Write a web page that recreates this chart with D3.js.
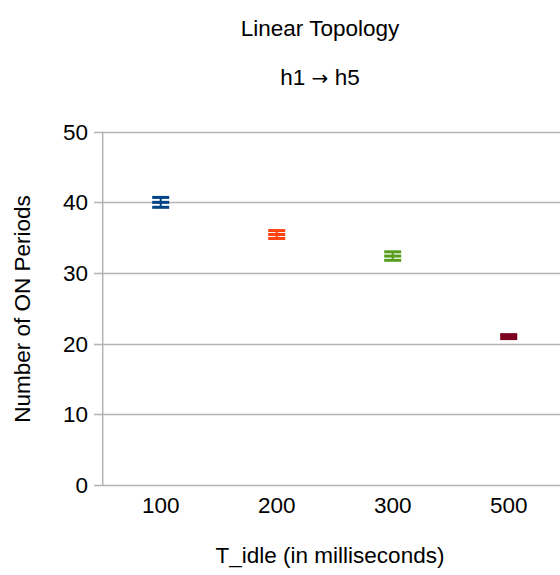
<!DOCTYPE html>
<html>
<head>
<meta charset="utf-8">
<script src="https://cdn.jsdelivr.net/npm/d3@7"></script>
<style>
  body { margin: 0; background: #fff; }
  text { font-family: "Liberation Sans", Arial, sans-serif; fill: #000; }
</style>
</head>
<body>
<div id="container"></div>
<script>
// ------ Data ------
const categories = ['100', '200', '300', '500'];
const means = [40.0, 35.45, 32.4, 21.0];
const errors = [0.7, 0.56, 0.6, 0.28];
const colors = ['#004586', '#ff420e', '#579d1c', '#7e0021'];
const yTicks = [0, 10, 20, 30, 40, 50];

// ------ Global Values ------
const width = 560,
  height = 575;

const svg = d3.select('#container').append('svg')
  .attr('width', width)
  .attr('height', height)
  .style('display', 'block');

svg.append('rect').attr('width', width).attr('height', height).attr('fill', '#fff');

const x = d3.scaleBand()
  .domain(categories)
  .range([102.7, 566.7]);

const y = d3.scaleLinear()
  .domain([0, 50])
  .range([485, 131.7]);

const gridColor = '#b3b3b3';
const fs = '22.5px';

// titles
svg.append('text')
  .attr('x', 320).attr('y', 36)
  .attr('text-anchor', 'middle')
  .style('font-size', fs)
  .text('Linear Topology');

const sub = svg.append('text')
  .attr('x', 320).attr('y', 85)
  .attr('text-anchor', 'middle')
  .style('font-size', fs);
sub.append('tspan').text('h1 ');
sub.append('tspan').style('font-family', '"DejaVu Sans"').style('font-size', '20px').text('\u2192');
sub.append('tspan').text(' h5');

// grid lines
svg.append('g').attr('class', 'grid')
  .selectAll('line').data(yTicks)
    .enter().append('line')
    .attr('x1', 94)
    .attr('x2', width)
    .attr('y1', d => Math.round(y(d)) + 0.5)
    .attr('y2', d => Math.round(y(d)) + 0.5)
    .attr('stroke', gridColor)
    .attr('stroke-width', 1.5);

// y axis line
svg.append('line')
  .attr('x1', 102.7).attr('x2', 102.7)
  .attr('y1', y(50)).attr('y2', y(0))
  .attr('stroke', gridColor)
  .attr('stroke-width', 1.5);

// y tick labels
svg.append('g')
  .selectAll('text').data(yTicks)
    .enter().append('text')
    .attr('x', 88)
    .attr('y', d => y(d) + 8)
    .attr('text-anchor', 'end')
    .style('font-size', fs)
    .text(d => d);

// x tick labels
svg.append('g')
  .selectAll('text').data(categories)
    .enter().append('text')
    .attr('x', d => x(d) + x.bandwidth() / 2)
    .attr('y', 513)
    .attr('text-anchor', 'middle')
    .style('font-size', fs)
    .text(d => d);

// axis titles
svg.append('text')
  .attr('transform', 'translate(30,309) rotate(-90)')
  .attr('text-anchor', 'middle')
  .style('font-size', fs)
  .text('Number of ON Periods');

svg.append('text')
  .attr('x', 330).attr('y', 563)
  .attr('text-anchor', 'middle')
  .style('font-size', fs)
  .text('T_idle (in milliseconds)');

// markers with error bars
const points = categories.map((c, i) => ({ c, m: means[i], e: errors[i], color: colors[i] }));
const mw = 17, th = 3;

const g = svg.append('g').attr('class', 'points')
  .selectAll('g').data(points)
    .enter().append('g')
    .attr('fill', d => d.color);

g.append('rect')
  .attr('x', d => x(d.c) + x.bandwidth() / 2 - 1)
  .attr('y', d => y(d.m + d.e))
  .attr('width', 2)
  .attr('height', d => y(d.m - d.e) - y(d.m + d.e));

[d => d.m + d.e, d => d.m, d => d.m - d.e].forEach(f => {
  g.append('rect')
    .attr('x', d => x(d.c) + x.bandwidth() / 2 - mw / 2)
    .attr('y', d => y(f(d)) - th / 2)
    .attr('width', mw)
    .attr('height', th);
});
</script>
</body>
</html>
